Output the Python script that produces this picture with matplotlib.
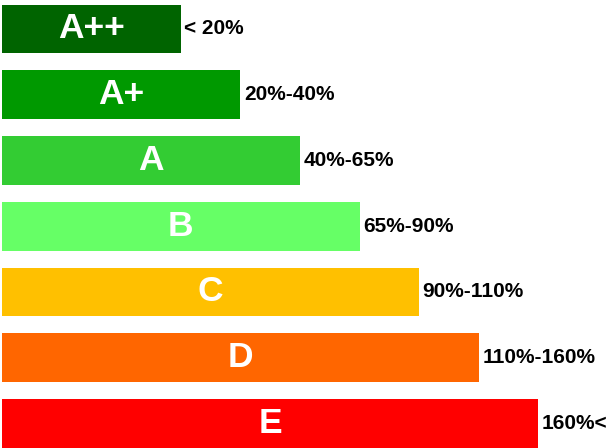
import matplotlib
matplotlib.use("Agg")
from matplotlib import pyplot as plt

# energy classes, top to bottom
classes = ["A++", "A+", "A", "B", "C", "D", "E"]
ranges = ["< 20%", "20%-40%", "40%-65%", "65%-90%", "90%-110%", "110%-160%", "160%<"]
lengths = [3, 4, 5, 6, 7, 8, 9]
colors = ["#006400", "#009900", "#33CC33", "#66FF66", "#FFC000", "#FF6600", "#FF0000"]

plt.rcParams['font.family'] = ['Liberation Sans', 'DejaVu Sans']

fig = plt.figure(figsize=(6.08, 4.48), dpi=100)
ax = fig.add_axes([0, 0, 1, 1])

pos = list(range(len(classes)))
ax.barh(pos, lengths, height=0.74, color=colors)

for y, w, cls, rng in zip(pos, lengths, classes, ranges):
    ax.text(w / 2, y, cls, color="white", fontsize=25.5, fontweight="bold",
            ha="center", va="center")
    ax.text(w + 0.06, y, rng, color="black", fontsize=15, fontweight="bold",
            ha="left", va="center")

ax.set_xlim(-0.034, 10.17)
ax.set_ylim(6.373, -0.441)
ax.axis("off")

fig.savefig("out.png", dpi=100)
